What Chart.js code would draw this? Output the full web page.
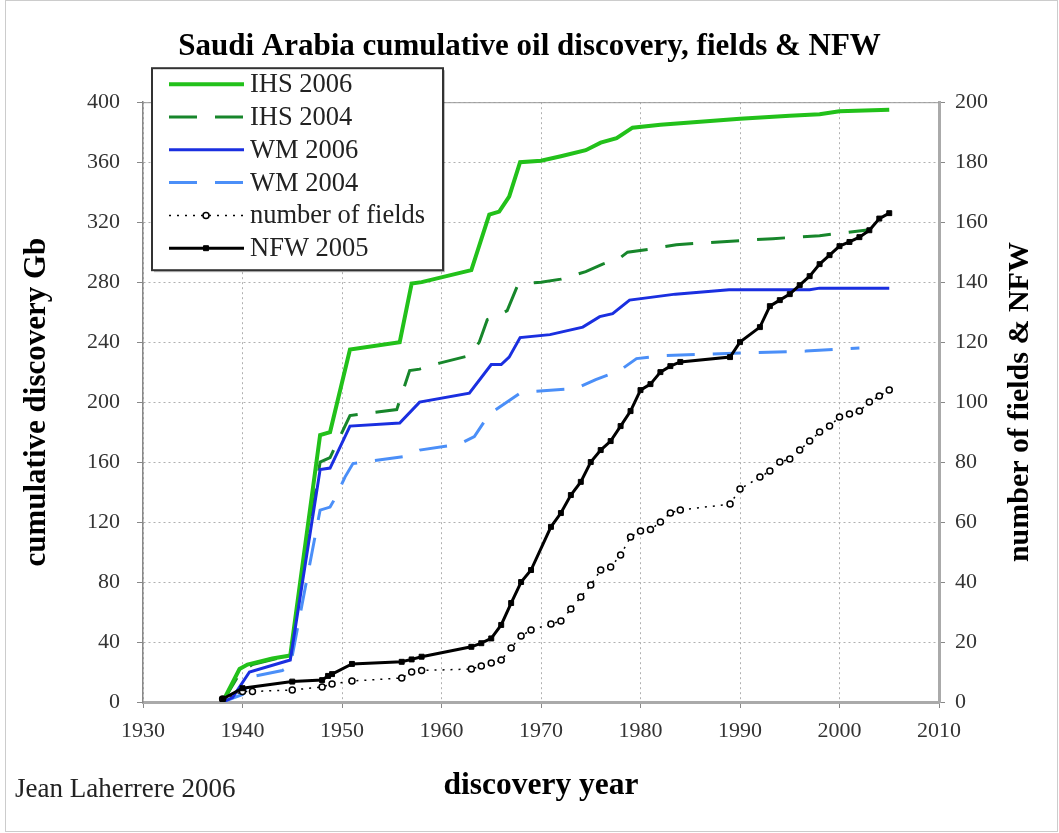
<!DOCTYPE html>
<html>
<head>
<meta charset="utf-8">
<script src="https://cdn.jsdelivr.net/npm/chart.js@4.4.1/dist/chart.umd.min.js"></script>
<style>
  html, body { margin: 0; padding: 0; background: #fff; }
  #wrap { width: 1059px; height: 833px; position: relative; }
</style>
</head>
<body>
<div id="wrap"><canvas id="chart" width="1059" height="833"></canvas></div>
<script>
// IHS 2006 cumulative discovery, Gb (left axis)
const ihs2006Years = [1938, 1939.7, 1940.5, 1943, 1944.8, 1947.8, 1948.8, 1950.8, 1955.8, 1957, 1958, 1963, 1964.8, 1965.8, 1966.8, 1967.9, 1970, 1972, 1974.5, 1976, 1977.6, 1979.2, 1982, 1990, 1995, 1998, 2000, 2005];
const ihs2006Values = [0, 22, 25, 29, 31, 178, 180, 235, 240, 279, 280, 288, 325, 327, 337, 360, 361, 364, 368, 373, 376, 383, 385, 389, 391, 392, 394, 395];

// IHS 2004
const ihs2004Years = [1938, 1939.8, 1941, 1943.5, 1944.8, 1947.8, 1948.8, 1950.8, 1953, 1955.5, 1956.8, 1957.8, 1959.8, 1962.8, 1963.8, 1964.6, 1965.5, 1966.6, 1967.6, 1968.2, 1970, 1972, 1974.5, 1976.2, 1977.9, 1978.7, 1981, 1983.6, 1988.3, 1993.3, 1998, 2003];
const ihs2004Values = [0, 20, 25, 29, 30, 160, 163, 191, 193, 195, 221, 222, 226, 231, 240, 255, 257, 261, 277, 279, 280, 282, 287, 292, 296, 300, 302, 305, 307, 309, 311, 315];

// WM 2006
const wm2006Years = [1938, 1939, 1940.7, 1944.8, 1947.8, 1948.8, 1950.8, 1955.8, 1957.8, 1962.8, 1965, 1966, 1966.8, 1967.9, 1970.9, 1974.2, 1975.9, 1977.2, 1978.9, 1981.2, 1983.5, 1988.9, 1997, 1998, 2005];
const wm2006Values = [0, 3, 20, 28, 155, 156, 184, 186, 200, 206, 225, 225, 230, 243, 245, 250, 257, 259, 268, 270, 272, 275, 275, 276, 276];

// WM 2004
const wm2004Years = [1938, 1940, 1941, 1944, 1944.8, 1947.8, 1948.8, 1949.4, 1950.3, 1951.1, 1956.5, 1957.8, 1961.8, 1963.3, 1964.8, 1967.9, 1968.9, 1973.5, 1975.5, 1977.9, 1979.6, 1982.4, 1986.6, 1996.6, 2002];
const wm2004Values = [0, 5, 17, 21, 24, 128, 130, 137, 150, 159, 164, 168, 172, 177, 192, 206, 207, 209, 215, 221, 229, 231, 232, 234, 236];

// number of fields (right axis)
const fieldYears = [1938, 1940, 1941, 1945, 1948, 1949, 1951, 1956, 1957, 1958, 1963, 1964, 1965, 1966, 1967, 1968, 1969, 1971, 1972, 1973, 1974, 1975, 1976, 1977, 1978, 1979, 1980, 1981, 1982, 1983, 1984, 1989, 1990, 1992, 1993, 1994, 1995, 1996, 1997, 1998, 1999, 2000, 2001, 2002, 2003, 2004, 2005];
const fieldValues = [1, 3.5, 3.5, 4, 5, 6, 7, 8, 10, 10.5, 11, 12, 13, 14, 18, 22, 24, 26, 27, 31, 35, 39, 44, 45, 49, 55, 57, 57.5, 60, 63, 64, 66, 71, 75, 77, 80, 81, 84, 87, 90, 92, 95, 96, 97, 100, 102, 104];

// NFW 2005 (right axis)
const nfwYears = [1938, 1940, 1945, 1948, 1948.6, 1949, 1951, 1956, 1957, 1958, 1963, 1964, 1965, 1966, 1967, 1968, 1969, 1971, 1972, 1973, 1974, 1975, 1976, 1977, 1978, 1979, 1980, 1981, 1982, 1983, 1984, 1989, 1990, 1992, 1993, 1994, 1995, 1996, 1997, 1998, 1999, 2000, 2001, 2002, 2003, 2004, 2005];
const nfwValues = [1, 4.6, 6.8, 7.3, 8.7, 9.3, 12.7, 13.4, 14.2, 15.1, 18.4, 19.6, 21.2, 25.7, 33, 40, 44, 58.4, 63, 69, 73.4, 80, 84, 87, 92, 97, 104, 106, 110, 112, 113.4, 115, 120, 125, 132, 134, 136, 139, 142, 146, 149, 152, 153.4, 155, 157.3, 161.2, 163];

const serif = "'Liberation Serif', 'DejaVu Serif', serif";

function pts(xs, ys) {
    return xs.map((x, i) => ({ x: x, y: ys[i] }));
}

const datasets = [
    {
        label: 'IHS 2006',
        data: pts(ihs2006Years, ihs2006Values),
        borderColor: '#22c11a',
        borderWidth: 4,
        pointRadius: 0,
        yAxisID: 'y',
        order: 3
    },
    {
        label: 'IHS 2004',
        data: pts(ihs2004Years, ihs2004Values),
        borderColor: '#17862b',
        borderWidth: 3,
        borderDash: [28, 18],
        pointRadius: 0,
        yAxisID: 'y',
        order: 5
    },
    {
        label: 'WM 2006',
        data: pts(wm2006Years, wm2006Values),
        borderColor: '#1a2fe0',
        borderWidth: 3,
        pointRadius: 0,
        yAxisID: 'y',
        order: 2
    },
    {
        label: 'WM 2004',
        data: pts(wm2004Years, wm2004Values),
        borderColor: '#4b8ff8',
        borderWidth: 3,
        borderDash: [28, 18],
        pointRadius: 0,
        yAxisID: 'y',
        order: 4
    },
    {
        label: 'number of fields',
        data: pts(fieldYears, fieldValues),
        borderColor: '#000',
        borderWidth: 1.5,
        borderDash: [2, 6],
        pointStyle: 'circle',
        pointRadius: 3,
        pointBorderWidth: 1.5,
        pointBackgroundColor: '#fff',
        pointBorderColor: '#000',
        yAxisID: 'y2',
        order: 1
    },
    {
        label: 'NFW 2005',
        data: pts(nfwYears, nfwValues),
        borderColor: '#000',
        borderWidth: 3,
        pointStyle: 'rect',
        pointRadius: 3.5,
        pointBorderWidth: 1,
        pointBackgroundColor: '#000',
        pointBorderColor: '#000',
        yAxisID: 'y2',
        order: 0
    }
];

// boxed legend in the top left corner, over the plot
const legendBox = {
    id: 'legendBox',
    afterDraw(chart) {
        const ctx = chart.ctx;
        const a = chart.chartArea;
        const x = a.left + 9, y = a.top - 34, w = 291, h = 202;
        ctx.save();
        ctx.fillStyle = 'rgba(0,0,0,0.25)';
        ctx.fillRect(x + 2, y + 2, w, h);
        ctx.fillStyle = '#fff';
        ctx.fillRect(x, y, w, h);
        ctx.strokeStyle = '#333';
        ctx.lineWidth = 2;
        ctx.strokeRect(x, y, w, h);
        ctx.font = '26.5px ' + serif;
        ctx.textBaseline = 'middle';
        datasets.forEach((ds, i) => {
            const cy = y + 16 + i * 32.8;
            ctx.save();
            ctx.strokeStyle = ds.borderColor;
            ctx.lineWidth = ds.borderWidth;
            ctx.setLineDash(ds.borderDash || []);
            ctx.beginPath();
            ctx.moveTo(x + 17, cy);
            ctx.lineTo(x + 92, cy);
            ctx.stroke();
            ctx.setLineDash([]);
            if (ds.pointRadius) {
                ctx.fillStyle = ds.pointBackgroundColor;
                ctx.strokeStyle = ds.pointBorderColor;
                ctx.lineWidth = ds.pointBorderWidth;
                Chart.helpers.drawPoint(ctx, {
                    pointStyle: ds.pointStyle,
                    radius: ds.pointRadius,
                    borderWidth: ds.pointBorderWidth,
                    rotation: 0
                }, x + 54, cy);
            }
            ctx.restore();
            ctx.fillStyle = '#222';
            ctx.fillText(ds.label, x + 98, cy + 1);
        });
        ctx.restore();
    }
};

// plot frame top line, right axis title, credit and page border
const extras = {
    id: 'extras',
    beforeDatasetsDraw(chart) {
        const ctx = chart.ctx;
        const a = chart.chartArea;
        ctx.save();
        ctx.strokeStyle = '#999';
        ctx.lineWidth = 1;
        ctx.beginPath();
        ctx.moveTo(a.left, a.top + 0.5);
        ctx.lineTo(a.right, a.top + 0.5);
        ctx.stroke();
        ctx.restore();
    },
    afterDraw(chart) {
        const ctx = chart.ctx;
        const a = chart.chartArea;
        ctx.save();
        ctx.fillStyle = '#000';
        ctx.font = 'bold 30px ' + serif;
        ctx.textAlign = 'center';
        ctx.textBaseline = 'middle';
        ctx.translate(1020, (a.top + a.bottom) / 2);
        ctx.rotate(-Math.PI / 2);
        ctx.fillText('number of fields & NFW', 0, 0);
        ctx.restore();

        ctx.save();
        ctx.fillStyle = '#222';
        ctx.font = '27px ' + serif;
        ctx.textBaseline = 'middle';
        ctx.fillText('Jean Laherrere 2006', 15, 790);
        ctx.strokeStyle = '#ccc';
        ctx.lineWidth = 1;
        ctx.strokeRect(5.5, 0.5, chart.width - 7, chart.height - 2);
        ctx.restore();
    }
};

const tickFont = { family: serif, size: 22 };

new Chart(document.getElementById('chart'), {
    type: 'line',
    data: { datasets: datasets },
    options: {
        responsive: false,
        animation: false,
        devicePixelRatio: 1,
        layout: { padding: 0 },
        elements: { line: { tension: 0 } },
        plugins: {
            legend: { display: false },
            tooltip: { enabled: false },
            title: {
                display: true,
                text: 'Saudi Arabia cumulative oil discovery, fields & NFW',
                color: '#000',
                font: { family: serif, size: 31, weight: 'bold' },
                padding: { top: 28, bottom: 37 }
            }
        },
        scales: {
            x: {
                type: 'linear',
                min: 1930,
                max: 2010,
                ticks: { stepSize: 10, color: '#333', font: tickFont, padding: 10, callback: v => String(v) },
                grid: { color: '#b0b0b0', lineWidth: 1, tickLength: 6, tickColor: '#888' },
                border: { color: '#aaa', width: 3, dash: [2, 3] },
                title: {
                    display: true,
                    text: 'discovery year',
                    color: '#000',
                    font: { family: serif, size: 31.5, weight: 'bold' },
                    padding: { top: 0, bottom: 28 }
                },
                afterFit(scale) { scale.height = 131; }
            },
            y: {
                position: 'left',
                min: 0,
                max: 400,
                ticks: { stepSize: 40, color: '#333', font: tickFont, padding: 17 },
                grid: { color: '#b0b0b0', lineWidth: 1, tickLength: 6, tickColor: '#888' },
                border: { color: '#888', width: 1.5, dash: [2, 3] },
                title: {
                    display: true,
                    text: 'cumulative discovery Gb',
                    color: '#000',
                    font: { family: serif, size: 31, weight: 'bold' },
                    padding: { top: 18, bottom: 0 }
                },
                afterFit(scale) { scale.width = 143; }
            },
            y2: {
                position: 'right',
                min: 0,
                max: 200,
                ticks: { stepSize: 20, color: '#333', font: tickFont, padding: 10 },
                grid: { drawOnChartArea: false, tickLength: 6, tickColor: '#888' },
                border: { color: '#aaa', width: 3 },
                afterFit(scale) { scale.width = 120; }
            }
        }
    },
    plugins: [extras, legendBox]
});
</script>
</body>
</html>
